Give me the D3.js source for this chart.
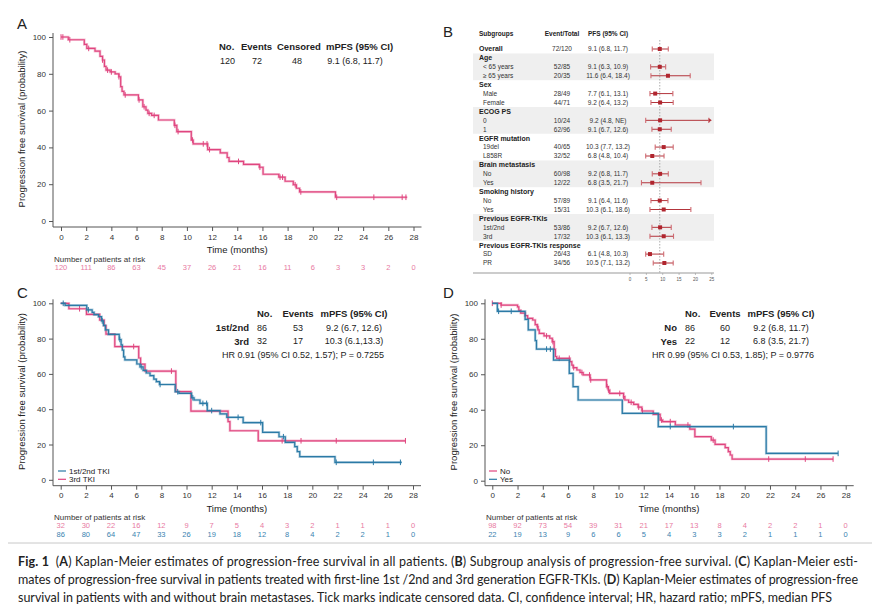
<!DOCTYPE html>
<html><head><meta charset="utf-8">
<script src="https://cdn.jsdelivr.net/npm/d3@7"></script>
<style>body{margin:0;background:#fff}svg{display:block}text{font-family:"Liberation Sans",Arial,sans-serif}</style>
</head><body><svg id="c" width="885" height="614"></svg>
<script>
// ---------------- DATA ----------------
const timeTicks = [0,2,4,6,8,10,12,14,16,18,20,22,24,26,28];
const survTicks = [0,20,40,60,80,100];

// Panel A: all patients
const stepsA = [[0,100],[0.58,98.5],[1.85,96],[2.05,93.8],[2.7,92.3],[3.1,89.5],[3.3,87.5],[3.45,84],[3.58,82],[3.9,81],[4.3,80],[4.6,78.4],[4.74,73],[4.85,70.5],[5.0,68.5],[6.15,65.8],[6.5,62.1],[6.75,60.3],[6.9,58.5],[7.2,57.4],[7.74,54.9],[9.0,52],[9.2,48.6],[10.35,44],[10.5,41.9],[11.65,38.8],[12.65,37],[13.2,34.5],[13.35,32.4],[14.5,30.8],[15.75,29.2],[16.05,25.4],[17.3,23.8],[17.8,21.6],[18.45,19.7],[18.7,17.8],[18.95,15.8],[21.8,12.9]];
const endA = 27.5;
const censorA = [0,0.15,0.7,2.2,3.3,3.7,4.0,4.6,5.1,6.2,6.6,7.0,7.4,9.05,9.3,10.45,11.3,11.6,11.8,14.1,15.8,17.4,17.6,18.6,19.05,21.9,24.85,27.1,27.4];
const riskA = [120,111,86,63,45,37,26,21,16,11,6,3,3,2,0];
const tableA = {head:["No.","Events","Censored","mPFS (95% CI)"], row:["120","72","48","9.1 (6.8, 11.7)"]};

// Panel C: 1st/2nd vs 3rd generation TKI
const stepsC12 = [[0,100],[0.35,98.8],[2.07,96.3],[2.5,94.9],[2.65,93.6],[3.0,92.4],[3.25,90],[3.4,87.5],[3.55,84.9],[3.8,82.4],[4.65,79.5],[4.8,76.5],[4.9,73.5],[5.0,69.7],[5.1,67.9],[6.05,65.6],[6.3,64],[6.55,62],[6.8,60.5],[7.1,59],[7.4,57],[7.6,55.6],[7.85,54],[9.1,49.9],[9.4,49],[10.4,46.5],[10.6,45.2],[11.07,43.3],[11.65,39.2],[12.66,37.3],[13.2,35.4],[14.5,32.4],[16.05,26.9],[17.35,24.4],[17.85,21.2],[18.6,18.8],[18.8,16],[19.0,13.1],[21.8,9.9]];
const endC12 = 27.1;
const censorC12 = [0.2,2.2,3.3,4.7,6.4,7.9,9.3,10.5,11.3,11.6,12.0,14.1,15.9,17.7,21.9,24.85,27.0];
const stepsC3 = [[0,100],[0.65,96.9],[2.05,93.7],[3.1,90.5],[3.45,87.3],[3.6,82.5],[4.3,75.5],[6.2,69],[6.35,65.5],[6.7,61.6],[9.15,50],[10.35,38.9],[13.3,33],[13.45,27.8],[15.7,22.1]];
const endC3 = 27.4;
const censorC3 = [1.5,5.8,8.8,17.6,19.1,21.9,27.4];
const riskC3 = [32,30,22,16,12,9,7,5,4,3,2,1,1,1,0];
const riskC12 = [86,80,64,47,33,26,19,18,12,8,4,2,2,1,0];
const groupsC = ["1st/2nd","3rd"];
const tableC = {head:["No.","Events","mPFS (95% CI)"], rows:[["86","53","9.2 (6.7, 12.6)"],["32","17","10.3 (6.1,13.3)"]], hr:"HR 0.91 (95% CI 0.52, 1.57); P = 0.7255"};
const legendC = ["1st/2nd TKI","3rd TKI"];

// Panel D: brain metastasis No vs Yes
const stepsDNo = [[0,100],[0.7,99],[2.0,98],[2.1,96],[2.25,94.5],[2.6,93],[2.8,91.5],[3.2,90.6],[3.4,88],[3.55,86.8],[3.62,85],[3.72,83],[4.1,81.6],[4.55,80.3],[4.75,78.4],[4.9,74],[5.0,70],[5.1,69],[6.15,67.1],[6.3,65.2],[6.4,63.7],[6.7,62.4],[6.95,61],[7.2,59.6],[7.75,56.8],[9.05,53],[9.2,51.1],[9.3,49.2],[10.4,47.4],[10.5,45.5],[10.8,44.2],[11.2,43],[11.55,41.5],[11.85,39.3],[12.75,37.4],[13.3,34.2],[13.5,33.3],[14.5,31.4],[15.65,29.1],[16.05,24.8],[17.35,22.9],[17.65,20.5],[18.45,18.6],[18.7,16.4],[18.85,14.5],[19.0,12.2]];
const endDNo = 27.0;
const censorDNo = [0,0.7,3.6,4.3,4.8,5.3,6.1,6.45,7.1,7.7,7.8,9.1,9.2,10.1,10.4,11.0,11.6,11.9,13.4,14.1,15.5,17.5,21.9,24.8,27.0];
const stepsDYes = [[0,100],[0.4,95.5],[2.6,90.9],[2.85,85],[3.4,79],[3.5,74.2],[4.85,68],[6.1,60.5],[6.4,53],[6.8,45.5],[10.3,38],[13.15,30.5],[21.7,15.4]];
const endDYes = 27.4;
const censorDYes = [0.5,1.5,4.3,4.6,14.1,19.1,27.4];
const riskDNo = [98,92,73,54,39,31,21,17,13,8,4,2,2,1,0];
const riskDYes = [22,19,13,9,6,6,5,4,3,3,2,1,1,1,0];
const groupsD = ["No","Yes"];
const tableD = {head:["No.","Events","mPFS (95% CI)"], rows:[["86","60","9.2 (6.8, 11.7)"],["22","12","6.8 (3.5, 21.7)"]], hr:"HR 0.99 (95% CI 0.53, 1.85); P = 0.9776"};
const legendD = ["No","Yes"];

// Panel B: forest plot
const fLabels = ["Overall","Age","< 65 years","\u2265 65 years","Sex","Male","Female","ECOG PS","0","1","EGFR mutation","19del","L858R","Brain metastasis","No","Yes","Smoking history","No","Yes","Previous EGFR-TKIs","1st/2nd","3rd","Previous EGFR-TKIs response","SD","PR"];
const fBold = [1,1,0,0,1,0,0,1,0,0,1,0,0,1,0,0,1,0,0,1,0,0,1,0,0];
const fEvents = ["72/120","","52/85","20/35","","28/49","44/71","","10/24","62/96","","40/65","32/52","","60/98","12/22","","57/89","15/31","","53/86","17/32","","26/43","34/56"];
const fPFS = ["9.1 (6.8, 11.7)","","9.1 (6.3, 10.9)","11.6 (6.4, 18.4)","","7.7 (6.1, 13.1)","9.2 (6.4, 13.2)","","9.2 (4.8, NE)","9.1 (6.7, 12.6)","","10.3 (7.7, 13.2)","6.8 (4.8, 10.4)","","9.2 (6.8, 11.7)","6.8 (3.5, 21.7)","","9.1 (6.4, 11.6)","10.3 (6.1, 18.6)","","9.2 (6.7, 12.6)","10.3 (6.1, 13.3)","","6.1 (4.8, 10.3)","10.5 (7.1, 13.2)"];
const fEst = [9.1,null,9.1,11.6,null,7.7,9.2,null,9.2,9.1,null,10.3,6.8,null,9.2,6.8,null,9.1,10.3,null,9.2,10.3,null,6.1,10.5];
const fLo  = [6.8,null,6.3,6.4,null,6.1,6.4,null,4.8,6.7,null,7.7,4.8,null,6.8,3.5,null,6.4,6.1,null,6.7,6.1,null,4.8,7.1];
const fHi  = [11.7,null,10.9,18.4,null,13.1,13.2,null,"NE",12.6,null,13.2,10.4,null,11.7,21.7,null,11.6,18.6,null,12.6,13.3,null,10.3,13.2];
const fShade = [[1,3],[7,9],[13,15],[19,21]];
const fTicks = [0,5,10,15,20,25];
const fHead = ["Subgroups","Event/Total","PFS (95% CI)"];

const caption = [
 [["Fig. 1",1],["  (",0],["A",1],[") Kaplan-Meier estimates of progression-free survival in all patients. (",0],["B",1],[") Subgroup analysis of progression-free survival. (",0],["C",1],[") Kaplan-Meier esti-",0]],
 [["mates of progression-free survival in patients treated with first-line 1st /2nd and 3rd generation EGFR-TKIs. (",0],["D",1],[") Kaplan-Meier estimates of progression-free",0]],
 [["survival in patients with and without brain metastases. Tick marks indicate censored data. CI, confidence interval; HR, hazard ratio; mPFS, median PFS",0]]
];

// ---------------- DRAW ----------------
const svg = d3.select("#c");
const PINK="#e0457f", BLUE="#2b7aa6", PINKT="#e87aa2", BLUET="#3a83b0", INK="#222";

function stepAt(steps,t){ let v=steps[0][1]; for(const s of steps){ if(s[0]<=t) v=s[1]; } return v; }

function txt(g,x,y,s,o={}){
  return g.append("text").attr("x",x).attr("y",y).attr("dy","0.35em")
    .attr("text-anchor",o.anchor||"start").attr("font-size",o.size||9)
    .attr("font-weight",o.bold?"bold":"normal").attr("fill",o.fill||INK).text(s);
}

function kmPanel(cfg){
  const g = svg.append("g");
  const x = d3.scaleLinear().domain([0,28]).range(cfg.xr);
  const y = d3.scaleLinear().domain([0,100]).range(cfg.yr);
  // y axis
  const ya = g.append("g").attr("transform",`translate(${cfg.axX},0)`)
    .call(d3.axisLeft(y).tickValues(survTicks).tickSize(4).tickPadding(3));
  ya.select(".domain").remove();
  ya.selectAll("text").attr("font-size",8).attr("fill","#333").attr("font-family",'"Liberation Sans",Arial,sans-serif');
  ya.selectAll("line").attr("stroke","#555");
  g.append("line").attr("x1",cfg.axX).attr("x2",cfg.axX).attr("y1",y(100)-4).attr("y2",cfg.axY).attr("stroke","#555");
  // x axis
  const xa = g.append("g").attr("transform",`translate(0,${cfg.axY})`)
    .call(d3.axisBottom(x).tickValues(timeTicks).tickSize(4).tickPadding(3));
  xa.select(".domain").remove();
  xa.selectAll("text").attr("font-size",8).attr("fill","#333").attr("font-family",'"Liberation Sans",Arial,sans-serif');
  xa.selectAll("line").attr("stroke","#555");
  g.append("line").attr("x1",cfg.axX).attr("x2",x(28)+8).attr("y1",cfg.axY).attr("y2",cfg.axY).attr("stroke","#555");
  // titles
  txt(g,(x(0)+x(28))/2,cfg.axY+23,"Time (months)",{anchor:"middle",size:9.5});
  g.append("text").attr("transform",`translate(${cfg.axX-31},${(y(0)+y(100))/2}) rotate(-90)`)
    .attr("text-anchor","middle").attr("dy","0.35em").attr("font-size",9.5).attr("fill",INK)
    .text("Progression free survival (probability)");
  txt(g,cfg.letterX,cfg.letterY,cfg.letter,{size:15});
  // curves
  const line = d3.line().x(d=>x(d[0])).y(d=>y(d[1])).curve(d3.curveStepAfter);
  cfg.curves.forEach(c=>{
    const pts = c.steps.concat([[c.end, c.steps[c.steps.length-1][1]]]);
    g.append("path").attr("d",line(pts)).attr("fill","none").attr("stroke",c.color).attr("stroke-opacity",0.35).attr("stroke-width",2.6);
    g.append("path").attr("d",line(pts)).attr("fill","none").attr("stroke",c.color).attr("stroke-width",1.2);
    g.selectAll(null).data(c.censor).enter().append("line")
      .attr("x1",d=>x(d)).attr("x2",d=>x(d))
      .attr("y1",d=>y(stepAt(c.steps,d))-2.8).attr("y2",d=>y(stepAt(c.steps,d))+2.8)
      .attr("stroke",c.color).attr("stroke-width",1);
  });
  // risk table
  txt(g,cfg.axX+1,cfg.riskY,"Number of patients at risk",{size:8,fill:"#333"});
  cfg.risk.forEach((r,k)=>{
    g.selectAll(null).data(r.vals).enter().append("text")
      .attr("x",(d,i)=>x(timeTicks[i])).attr("y",cfg.riskY+8.5+k*8.7).attr("dy","0.35em")
      .attr("text-anchor","middle").attr("font-size",7.5).attr("fill",r.color).text(d=>d);
  });
  return {g,x,y};
}

// Panel A
const pA = kmPanel({xr:[61,413.5], yr:[221,37], axX:53, axY:227, letter:"A", letterX:17, letterY:24,
  curves:[{steps:stepsA,end:endA,censor:censorA,color:PINK}],
  riskY:259, risk:[{vals:riskA,color:PINKT}]});
{
  const g=pA.g, hx=[219,241,277,326];
  tableA.head.forEach((h,i)=>txt(g,hx[i],47,h,{size:9.5,bold:true}));
  txt(g,220,61,tableA.row[0],{size:9});
  txt(g,257,61,tableA.row[1],{size:9,anchor:"middle"});
  txt(g,297,61,tableA.row[2],{size:9,anchor:"middle"});
  txt(g,355,61,tableA.row[3],{size:9,anchor:"middle"});
}

// Panel C
const pC = kmPanel({xr:[60.7,413], yr:[479.8,303.3], axX:53, axY:485.7, letter:"C", letterX:17, letterY:293,
  curves:[{steps:stepsC3,end:endC3,censor:censorC3,color:PINK},{steps:stepsC12,end:endC12,censor:censorC12,color:BLUE}],
  riskY:517, risk:[{vals:riskC3,color:PINKT},{vals:riskC12,color:BLUET}]});
// Panel D
const pD = kmPanel({xr:[492.3,845.7], yr:[480.7,303.3], axX:485, axY:485.7, letter:"D", letterX:443, letterY:293,
  curves:[{steps:stepsDNo,end:endDNo,censor:censorDNo,color:PINK},{steps:stepsDYes,end:endDYes,censor:censorDYes,color:BLUE}],
  riskY:517, risk:[{vals:riskDNo,color:PINKT},{vals:riskDYes,color:BLUET}]});

function kmTable(g,t,groups,o){
  txt(g,o.noX,314,t.head[0],{size:9.5,bold:true});
  txt(g,o.evX,314,t.head[1],{size:9.5,bold:true,anchor:"middle"});
  txt(g,o.mX,314,t.head[2],{size:9.5,bold:true,anchor:"middle"});
  t.rows.forEach((r,i)=>{
    const yy=328+i*13.3;
    txt(g,o.labX,yy,groups[i],{size:9.5,bold:true,anchor:"end"});
    txt(g,o.noX,yy,r[0],{size:9});
    txt(g,o.evX,yy,r[1],{size:9,anchor:"middle"});
    txt(g,o.mX,yy,r[2],{size:9,anchor:"middle"});
  });
  txt(g,o.hrX,355,t.hr,{size:9,anchor:"middle"});
}
kmTable(pC.g,tableC,groupsC,{noX:257,evX:298,mX:354,labX:249,hrX:303});
kmTable(pD.g,tableD,groupsD,{noX:685,evX:725,mX:781,labX:677,hrX:733});

function kmLegend(g,x0,labels,colors){
  labels.forEach((l,i)=>{
    const yy=471+i*8.3;
    g.append("line").attr("x1",x0).attr("x2",x0+8).attr("y1",yy).attr("y2",yy).attr("stroke",colors[i]).attr("stroke-width",1.2);
    txt(g,x0+11,yy,l,{size:8});
  });
}
kmLegend(pC.g,58,legendC,[BLUE,PINK]);
kmLegend(pD.g,489,legendD,[PINK,BLUE]);

// Panel B: forest
{
  const g = svg.append("g");
  const fy = d3.scaleLinear().domain([0,fLabels.length-1]).range([49,263]);
  const fx = d3.scaleLinear().domain([0,25]).range([630,711.8]);
  const step = fy(1)-fy(0);
  txt(g,443,32,"B",{size:15});
  fShade.forEach(s=>g.append("rect").attr("x",473).attr("width",241)
    .attr("y",fy(s[0])-step/2).attr("height",fy(s[1])-fy(s[0])+step).attr("fill","#efefef"));
  txt(g,479,34,fHead[0],{size:6.5,bold:true});
  txt(g,562,34,fHead[1],{size:6.5,bold:true,anchor:"middle"});
  txt(g,608,34,fHead[2],{size:6.5,bold:true,anchor:"middle"});
  fLabels.forEach((l,i)=>{
    const yy=fy(i);
    if(fBold[i]) txt(g,479,yy,l,{size:7,bold:true});
    else txt(g,483,yy,l,{size:6.5,fill:"#333"});
    if(fEvents[i]) txt(g,562,yy,fEvents[i],{size:6.5,anchor:"middle",fill:"#333"});
    if(fPFS[i]) txt(g,608,yy,fPFS[i],{size:6.5,anchor:"middle",fill:"#333"});
  });
  // reference line
  g.append("line").attr("x1",fx(fEst[0])).attr("x2",fx(fEst[0])).attr("y1",40).attr("y2",273)
    .attr("stroke","#999").attr("stroke-dasharray","1.5,1.5").attr("stroke-width",0.8);
  // bottom axis
  g.append("line").attr("x1",473).attr("x2",714).attr("y1",273).attr("y2",273).attr("stroke","#999");
  fTicks.forEach(t=>{
    g.append("line").attr("x1",fx(t)).attr("x2",fx(t)).attr("y1",273).attr("y2",275).attr("stroke","#999").attr("stroke-width",0.6);
    txt(g,fx(t),279,t,{size:4.5,anchor:"middle",fill:"#555"});
  });
  const LC="#b3353c", CC="#cf6b72";
  fEst.forEach((e,i)=>{
    if(e===null) return;
    const yy=fy(i), ne = fHi[i]==="NE";
    const hi = ne ? fx.domain()[1] : fHi[i];
    const xHi = fx(hi) - (ne?3:0);
    g.append("line").attr("x1",fx(fLo[i])).attr("x2",fx(hi)-(ne?1:0)).attr("y1",yy).attr("y2",yy).attr("stroke",LC).attr("stroke-width",1);
    [fx(fLo[i]),xHi].forEach(xx=>g.append("line").attr("x1",xx).attr("x2",xx).attr("y1",yy-2.6).attr("y2",yy+2.6).attr("stroke",CC).attr("stroke-width",1.1));
    if(ne){
      const xa=fx(hi);
      g.append("path").attr("d",`M${xa},${yy}L${xa-3},${yy-2}L${xa-3},${yy+2}Z`).attr("fill",LC);
    }
    g.append("rect").attr("x",fx(e)-2).attr("y",yy-2).attr("width",4).attr("height",4).attr("fill","#b0252e");
  });
}

// Caption
{
  const g = svg.append("g");
  g.append("line").attr("x1",8).attr("x2",872).attr("y1",543).attr("y2",543).attr("stroke","#c8c8c8").attr("stroke-width",1);
  const widths=[840,840,814];
  caption.forEach((segs,li)=>{
    const t = g.append("text").attr("x",18).attr("y",566+li*18).attr("font-size",12.5)
      .style("font-family","Lato, 'Liberation Sans', sans-serif").style("white-space","pre").attr("fill","#222")
      .attr("textLength",widths[li]).attr("lengthAdjust","spacing");
    segs.forEach(s=>t.append("tspan").attr("font-weight",s[1]?"bold":"normal").text(s[0]));
  });
}
</script></body></html>
